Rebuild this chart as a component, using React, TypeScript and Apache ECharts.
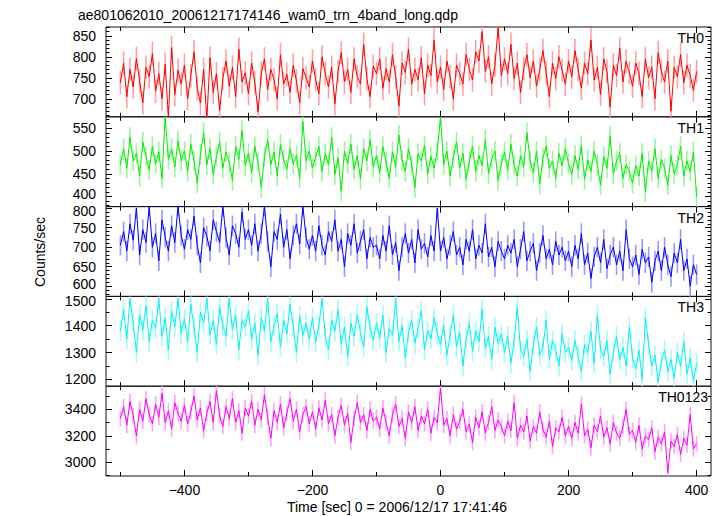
import React, { useEffect, useRef } from "react";
import * as echarts from "echarts";

const TITLE = "ae801062010_20061217174146_wam0_trn_4band_long.qdp";
const X_LABEL = "Time [sec] 0 = 2006/12/17 17:41:46";
const Y_LABEL = "Counts/sec";

// time bins: from -500 s to 400 s every 5 s
const T_START = -500;
const T_STEP = 5;

const X_MAJOR = [-400, -200, 0, 200, 400];
const X_MINOR = [-500, -300, -100, 100, 300];

const TH0 = [
  738, 785, 705, 770, 728, 796, 742, 690, 775, 752, 808, 718, 760, 700, 782, 655, 822, 710, 768, 735,
  780, 700, 755, 812, 725, 690, 770, 650, 798, 715, 760, 672, 748, 790, 730, 775, 705, 818, 740, 762,
  712, 785, 738, 668, 760, 795, 722, 770, 745, 700, 805, 735, 758, 715, 780, 742, 690, 772, 750, 728,
  790, 745, 712, 800, 760, 728, 775, 688, 765, 810, 740, 770, 715, 795, 752, 735, 830, 748, 705, 778,
  760, 795, 725, 772, 740, 805, 752, 682, 785, 762, 818, 735, 770, 745, 798, 712, 780, 755, 840, 740,
  775, 722, 790, 752, 700, 780, 760, 735, 805, 770, 745, 812, 790, 860, 765, 800, 735, 780, 870, 755,
  795, 760, 830, 748, 785, 715, 772, 805, 750, 790, 730, 770, 815, 762, 705, 785, 748, 800, 768, 735,
  790, 752, 815, 770, 725, 785, 760, 840, 745, 775, 710, 795, 765, 680, 780, 755, 820, 740, 790, 762,
  730, 785, 760, 705, 795, 750, 775, 700, 810, 765, 740, 790, 670, 775, 752, 805, 738, 780, 755, 720,
  765,
];

const TH1 = [
  470, 505, 462, 530, 478, 495, 445, 520, 488, 458, 510, 472, 498, 440, 575, 482, 505, 465, 522, 478,
  500, 455, 515, 478, 430, 492, 540, 470, 505, 448, 488, 520, 462, 498, 475, 435, 510, 482, 545, 468,
  495, 452, 510, 475, 420, 488, 525, 470, 498, 445, 515, 480, 460, 505, 472, 490, 440, 565, 478, 500,
  462, 488, 510, 455, 495, 470, 530, 448, 485, 412, 500, 472, 515, 460, 490, 438, 505, 478, 525, 465,
  490, 452, 510, 475, 440, 498, 465, 535, 480, 455, 505, 470, 420, 495, 478, 512, 450, 488, 462, 500,
  575, 470, 500, 445, 485, 520, 462, 495, 438, 478, 510, 455, 490, 468, 525, 450, 482, 500, 435, 472,
  498, 458, 515, 470, 445, 490, 465, 540, 478, 452, 500, 428, 485, 510, 462, 478, 440, 495, 468, 505,
  472, 448, 490, 460, 512, 438, 480, 455, 500, 470, 425, 488, 462, 532, 450, 478, 495, 440, 470, 455,
  430, 468, 445, 495, 410, 478, 455, 505, 440, 482, 462, 425, 490, 450, 470, 510, 445, 478, 455, 498,
  400,
];

const TH2 = [
  705, 740, 690, 760, 718, 800, 680, 745, 712, 805, 700, 735, 665, 770, 725, 690, 755, 712, 805, 730,
  695, 745, 720, 780, 705, 660, 750, 728, 690, 770, 740, 712, 805, 725, 680, 755, 735, 700, 790, 720,
  745, 705, 760, 690, 735, 805, 715, 650, 740, 720, 785, 700, 745, 670, 730, 760, 708, 805, 725, 695,
  730, 690, 755, 705, 680, 740, 715, 770, 690, 720, 650, 735, 705, 760, 685, 715, 745, 670, 725, 700,
  705, 670, 730, 690, 755, 680, 712, 640, 700, 735, 685, 720, 660, 745, 695, 710, 675, 730, 690, 800,
  690, 725, 670, 705, 740, 680, 700, 655, 720, 690, 745, 670, 705, 685, 760, 675, 700, 650, 715, 690,
  670, 705, 685, 720, 650, 695, 740, 665, 690, 710, 640, 685, 730, 670, 695, 655, 715, 680, 700, 665,
  690, 650, 705, 670, 735, 655, 685, 620, 675, 700, 660, 720, 645, 680, 700, 655, 690, 640, 745, 670,
  650, 680, 630, 695, 660, 675, 610, 665, 690, 640, 700, 655, 625, 685, 660, 720, 640, 670, 600, 655,
  630,
];

const TH3 = [
  1380, 1460, 1350, 1500, 1410, 1300, 1440, 1385, 1475, 1340, 1420, 1390, 1500, 1360, 1430, 1310, 1455, 1395, 1500, 1370,
  1425, 1340, 1480, 1395, 1300, 1450, 1410, 1500, 1365, 1420, 1330, 1470, 1400, 1360, 1500, 1385, 1440, 1310, 1420, 1395,
  1455, 1350, 1410, 1290, 1430, 1380, 1500, 1340, 1400, 1445, 1320, 1420, 1370, 1480, 1395, 1300, 1435, 1365, 1410, 1350,
  1430, 1340, 1400, 1500, 1360, 1310, 1420, 1380, 1460, 1330, 1395, 1285, 1410, 1360, 1440, 1375, 1320, 1470, 1390, 1345,
  1410, 1355, 1440, 1300, 1390, 1365, 1500, 1340, 1400, 1280, 1375, 1420, 1335, 1390, 1455, 1310, 1380, 1350, 1430, 1370,
  1330, 1400, 1290, 1365, 1440, 1320, 1375, 1250, 1350, 1410, 1305, 1380, 1340, 1460, 1315, 1360, 1275, 1395, 1335, 1370,
  1300, 1360, 1260, 1340, 1470, 1310, 1285, 1350, 1230, 1330, 1395, 1290, 1320, 1420, 1275, 1345, 1305, 1250, 1370, 1300,
  1320, 1270, 1345, 1290, 1230, 1330, 1300, 1380, 1260, 1440, 1310, 1285, 1345, 1220, 1300, 1360, 1275, 1320, 1250, 1395,
  1280, 1240, 1310, 1200, 1430, 1330, 1250, 1290, 1190, 1265, 1310, 1230, 1275, 1205, 1300, 1250, 1340, 1220, 1280, 1195,
  1260,
];

const TH0123 = [
  3330, 3420, 3280, 3460, 3350, 3200, 3400, 3310, 3480, 3360, 3290, 3440, 3340, 3520, 3300, 3390, 3250, 3450, 3370, 3310,
  3430, 3290, 3380, 3500, 3320, 3410, 3240, 3370, 3460, 3300, 3540, 3350, 3270, 3420, 3330, 3480, 3300, 3390, 3220, 3410,
  3350, 3460, 3280, 3400, 3320, 3510, 3340, 3180, 3390, 3300, 3440, 3260, 3370, 3480, 3310, 3400, 3230, 3360, 3420, 3290,
  3380, 3250, 3410, 3320, 3470, 3290, 3360, 3200, 3340, 3430, 3280, 3370, 3150, 3330, 3450, 3300, 3360, 3240, 3400, 3310,
  3340, 3250, 3410, 3300, 3200, 3360, 3440, 3270, 3330, 3180, 3380, 3300, 3420, 3240, 3350, 3290, 3400, 3220, 3340, 3300,
  3560, 3280, 3330, 3200, 3360, 3250, 3310, 3400, 3230, 3290, 3150, 3340, 3260, 3380, 3220, 3300, 3420, 3240, 3320, 3270,
  3200, 3310, 3240, 3450, 3180, 3280, 3230, 3350, 3160, 3270, 3220, 3380, 3250, 3190, 3310, 3120, 3260, 3230, 3340, 3200,
  3270, 3180, 3300, 3220, 3440, 3200, 3250, 3110, 3280, 3230, 3350, 3190, 3260, 3140, 3300, 3220, 3180, 3270, 3400, 3210,
  3240, 3150, 3280, 3100, 3200, 3170, 3260, 3080, 3190, 3140, 3230, 2920, 3160, 3120, 3210, 3060, 3180, 3130, 3360, 3100,
  3140,
];

// half-length of the error bars per band (counts/sec)
const TH0_ERR = 28;
const TH1_ERR = 22;
const TH2_ERR = 26;
const TH3_ERR = 37;
const TH0123_ERR = 58;

const TH0_TICKS = [700, 750, 800, 850];
const TH1_TICKS = [400, 450, 500, 550];
const TH2_TICKS = [600, 650, 700, 750, 800];
const TH3_TICKS = [1200, 1300, 1400, 1500];
const TH0123_TICKS = [3000, 3200, 3400];

const PANELS = [
  { name: "TH0", values: TH0, err: TH0_ERR, ticks: TH0_TICKS, min: 657, max: 871, minorStep: 10, color: "#ff0000", light: "#ffa0a0", labelX: 704, nudgeLow: false, nudgeHigh: false },
  { name: "TH1", values: TH1, err: TH1_ERR, ticks: TH1_TICKS, min: 378, max: 575, minorStep: 10, color: "#00f000", light: "#98f898", labelX: 704, nudgeLow: true, nudgeHigh: false },
  { name: "TH2", values: TH2, err: TH2_ERR, ticks: TH2_TICKS, min: 574, max: 804, minorStep: 10, color: "#0000ff", light: "#9898ff", labelX: 704, nudgeLow: true, nudgeHigh: true },
  { name: "TH3", values: TH3, err: TH3_ERR, ticks: TH3_TICKS, min: 1175, max: 1509, minorStep: 50, color: "#00f4f4", light: "#a4fafa", labelX: 704, nudgeLow: false, nudgeHigh: true },
  { name: "TH0123", values: TH0123, err: TH0123_ERR, ticks: TH0123_TICKS, min: 2897, max: 3574, minorStep: 100, color: "#ff00ff", light: "#ffa0ff", labelX: 708, nudgeLow: false, nudgeHigh: false },
];

const X_MIN = -522.5;
const X_MAX = 422.5;
const FONT = "Liberation Sans, Arial, Helvetica, sans-serif";
const GRID_TOP = 27;
const GRID_H = 89.8;

function minorValues(min: number, max: number, step: number, majors: number[]) {
  const out: number[] = [];
  const start = Math.ceil(min / step) * step;
  for (let v = start; v <= max; v += step) {
    if (!majors.includes(v)) out.push(v);
  }
  return out;
}

const fmtNum = (v: number) => (v < 0 ? "\u2212" + Math.abs(v) : String(v));

export default function App() {
  const ref = useRef<HTMLDivElement>(null);
  useEffect(() => {
    if (!ref.current) return;
    const chart = echarts.init(ref.current, undefined, { renderer: "svg" });
    const grids: any[] = [];
    const xAxes: any[] = [];
    const yAxes: any[] = [];
    const series: any[] = [];
    const graphics: any[] = [];
    const tickLine = { color: "#000", width: 1 };
    const richBase = { fontSize: 14, fontFamily: FONT, color: "#000" };

    PANELS.forEach((p, i) => {
      const top = GRID_TOP + i * GRID_H;
      grids.push({
        left: 106,
        right: 12,
        top,
        height: GRID_H,
        show: true,
        borderColor: "#111",
        borderWidth: 1,
        backgroundColor: "transparent",
      });
      const isLast = i === PANELS.length - 1;
      const xBase = (position: string, ticks: number[], len: number, label: boolean) => ({
        type: "value",
        gridIndex: i,
        position,
        min: X_MIN,
        max: X_MAX,
        axisLine: { show: false, onZero: false },
        splitLine: { show: false },
        axisTick: { show: true, inside: true, length: len, customValues: ticks, lineStyle: tickLine },
        axisLabel: {
          show: label,
          customValues: ticks,
          formatter: (v: number) => fmtNum(v),
          color: "#000",
          fontSize: 14,
          fontFamily: FONT,
          margin: 7,
        },
      });
      xAxes.push(xBase("bottom", X_MAJOR, 6, isLast));
      xAxes.push(xBase("bottom", X_MINOR, 4, false));
      xAxes.push(xBase("top", X_MAJOR, 6, false));
      xAxes.push(xBase("top", X_MINOR, 4, false));

      const minors = minorValues(p.min, p.max, p.minorStep, p.ticks);
      const lowTick = p.ticks[0];
      const highTick = p.ticks[p.ticks.length - 1];
      const yBase = (position: string, ticks: number[], len: number, label: boolean) => ({
        type: "value",
        gridIndex: i,
        position,
        min: p.min,
        max: p.max,
        axisLine: { show: false, onZero: false },
        splitLine: { show: false },
        axisTick: { show: true, inside: true, length: len, customValues: ticks, lineStyle: tickLine },
        axisLabel: {
          show: label,
          customValues: ticks,
          formatter: (v: number) => {
            if (p.nudgeLow && v === lowTick) return `{up|${v}}`;
            if (p.nudgeHigh && v === highTick) return `{down|${v}}`;
            return `{n|${v}}`;
          },
          rich: {
            n: { ...richBase },
            up: { ...richBase, padding: [0, 0, 5, 0] },
            down: { ...richBase, padding: [5, 0, 0, 0] },
          },
          color: "#000",
          fontSize: 14,
          fontFamily: FONT,
          margin: 10,
          showMinLabel: true,
          showMaxLabel: true,
        },
      });
      yAxes.push(yBase("left", p.ticks, 6, true));
      yAxes.push(yBase("left", minors, 3.5, false));
      yAxes.push(yBase("right", p.ticks, 6, false));
      yAxes.push(yBase("right", minors, 3.5, false));

      const data = p.values.map((v, k) => [T_START + k * T_STEP, v, p.err]);
      const lo = p.min;
      const hi = p.max;
      series.push({
        type: "custom",
        xAxisIndex: i * 4,
        yAxisIndex: i * 4,
        data,
        silent: true,
        z: 1,
        renderItem: (params: any, api: any) => {
          const t = api.value(0);
          const v = api.value(1);
          const e = api.value(2);
          const a = api.coord([t, Math.max(lo, Math.min(hi, v - e))]);
          const b = api.coord([t, Math.max(lo, Math.min(hi, v + e))]);
          return {
            type: "line",
            shape: { x1: a[0], y1: a[1], x2: b[0], y2: b[1] },
            style: { stroke: p.light, lineWidth: 1.6 },
          };
        },
      });
      series.push({
        type: "line",
        xAxisIndex: i * 4,
        yAxisIndex: i * 4,
        data: data.map((d) => [d[0], d[1]]),
        showSymbol: false,
        silent: true,
        clip: true,
        lineStyle: { color: p.color, width: 1 },
        z: 2,
      });
      graphics.push({
        type: "text",
        x: p.labelX,
        y: top + 11,
        style: {
          text: p.name,
          textAlign: "right",
          textVerticalAlign: "middle",
          font: `14px ${FONT}`,
          fill: "#000",
        },
        z: 10,
      });
    });

    graphics.push({
      type: "text",
      x: 78,
      y: 15,
      style: { text: TITLE, textAlign: "left", textVerticalAlign: "middle", font: `14px ${FONT}`, fill: "#000" },
    });
    graphics.push({
      type: "text",
      x: 397,
      y: 507,
      style: { text: X_LABEL, textAlign: "center", textVerticalAlign: "middle", font: `14px ${FONT}`, fill: "#000" },
    });
    graphics.push({
      type: "text",
      x: 40,
      y: 252,
      rotation: Math.PI / 2,
      style: { text: Y_LABEL, textAlign: "center", textVerticalAlign: "middle", font: `14px ${FONT}`, fill: "#000" },
    });

    chart.setOption({
      animation: false,
      backgroundColor: "#fff",
      grid: grids,
      xAxis: xAxes,
      yAxis: yAxes,
      series,
      graphic: graphics,
    });
    return () => chart.dispose();
  }, []);
  return (
    <div
      ref={ref}
      style={{ position: "absolute", left: 0, top: 0, width: 723, height: 516 }}
    />
  );
}
